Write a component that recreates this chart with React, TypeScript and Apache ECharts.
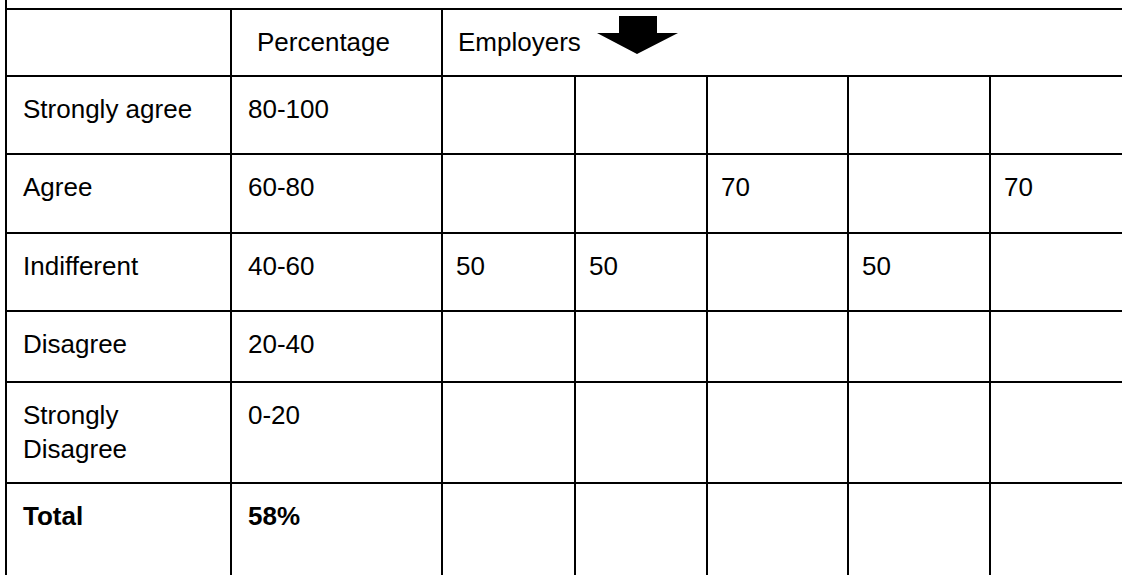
import { useEffect, useRef } from "react";
import * as echarts from "echarts";

// ---- data ----
const headerLabels = ["", "Percentage", "Employers"];
const rowLabels = ["Strongly agree", "Agree", "Indifferent", "Disagree", "Strongly\nDisagree", "Total"];
const percentageRanges = ["80-100", "60-80", "40-60", "20-40", "0-20", "58%"];
const employerScores = [50, 50, 70, 50, 70];
const boldRows = ["Total"];

// ---- layout (page pixels) ----
const W = 1122;
const H = 575;
const colEdges = [6, 231, 442, 575, 707, 848, 990, 1170];
const rowEdges = [9, 76, 154, 233, 311, 382, 483, 620];
const colPad = [17, 17, 14, 14, 14, 14, 14];
const headerPad = [17, 26, 16];
const FONT_SIZE = 26;
const LINE_H = 34;
const TEXT_TOP = 16;
const FONT = "Liberation Sans, Arial, Helvetica, sans-serif";

type Cell = { col: number; row: number; text: string; bold: boolean; pad: number };

function rowForScore(v: number): number {
  for (let i = 0; i < percentageRanges.length; i++) {
    const parts = percentageRanges[i].split("-");
    if (parts.length !== 2) continue;
    const lo = Number(parts[0]);
    const hi = Number(parts[1]);
    if (v >= lo && v < hi) return i + 1;
  }
  return -1;
}

function buildCells(): Cell[] {
  const cells: Cell[] = [];
  headerLabels.forEach((t, c) => {
    if (t) cells.push({ col: c, row: 0, text: t, bold: false, pad: headerPad[c] });
  });
  rowLabels.forEach((t, i) => {
    const bold = boldRows.indexOf(t) >= 0;
    cells.push({ col: 0, row: i + 1, text: t, bold, pad: colPad[0] });
    cells.push({ col: 1, row: i + 1, text: percentageRanges[i], bold, pad: colPad[1] });
  });
  employerScores.forEach((v, k) => {
    const r = rowForScore(v);
    if (r > 0) cells.push({ col: 2 + k, row: r, text: String(v), bold: false, pad: colPad[2 + k] });
  });
  return cells;
}

function buildLines(): number[][] {
  const lines: number[][] = [];
  const lastRow = rowEdges.length - 1;
  // horizontal rules
  for (let r = 0; r < lastRow; r++) {
    lines.push([colEdges[0], rowEdges[r], colEdges[colEdges.length - 1], rowEdges[r]]);
  }
  // outer left border extends above the table
  lines.push([colEdges[0], 0, colEdges[0], rowEdges[lastRow]]);
  // label / percentage dividers
  lines.push([colEdges[1], rowEdges[0], colEdges[1], rowEdges[lastRow]]);
  lines.push([colEdges[2], rowEdges[0], colEdges[2], rowEdges[lastRow]]);
  // employer column dividers (below header)
  for (let c = 3; c < colEdges.length - 1; c++) {
    lines.push([colEdges[c], rowEdges[1], colEdges[c], rowEdges[lastRow]]);
  }
  return lines;
}

export default function App() {
  const ref = useRef<HTMLDivElement>(null);
  useEffect(() => {
    if (!ref.current) return;
    const chart = echarts.init(ref.current, undefined, { renderer: "svg" });
    const cells = buildCells();
    const lines = buildLines();
    chart.setOption({
      animation: false,
      backgroundColor: "#ffffff",
      grid: { left: 0, top: 0, right: 0, bottom: 0 },
      xAxis: { type: "value", min: 0, max: W, show: false },
      yAxis: { type: "value", min: 0, max: H, inverse: true, show: false },
      series: [
        {
          type: "custom",
          coordinateSystem: "cartesian2d",
          data: lines,
          renderItem: (_params: any, api: any) => {
            const a = api.coord([api.value(0), api.value(1)]);
            const b = api.coord([api.value(2), api.value(3)]);
            return {
              type: "line",
              shape: { x1: a[0], y1: a[1], x2: b[0], y2: b[1] },
              style: { stroke: "#000000", lineWidth: 2 },
            };
          },
        },
        {
          type: "custom",
          coordinateSystem: "cartesian2d",
          data: cells.map((c) => [colEdges[c.col], rowEdges[c.row]]),
          renderItem: (params: any, api: any) => {
            const cell = cells[params.dataIndex];
            const p = api.coord([api.value(0), api.value(1)]);
            return {
              type: "text",
              x: p[0] + cell.pad,
              y: p[1] + TEXT_TOP,
              style: {
                text: cell.text,
                fill: "#000000",
                fontFamily: FONT,
                fontSize: FONT_SIZE,
                fontWeight: cell.bold ? "bold" : "normal",
                lineHeight: LINE_H,
                align: "left",
                verticalAlign: "top",
              },
            };
          },
        },
      ],
      graphic: [
        {
          type: "polygon",
          shape: {
            points: [
              [619, 16],
              [657, 16],
              [657, 33],
              [678, 33],
              [637, 54],
              [597, 33],
              [619, 33],
            ],
          },
          style: { fill: "#000000" },
        },
      ],
    });
    return () => chart.dispose();
  }, []);
  return (
    <div
      ref={ref}
      style={{ position: "fixed", left: 0, top: 0, width: W, height: H, background: "#fff" }}
    />
  );
}
